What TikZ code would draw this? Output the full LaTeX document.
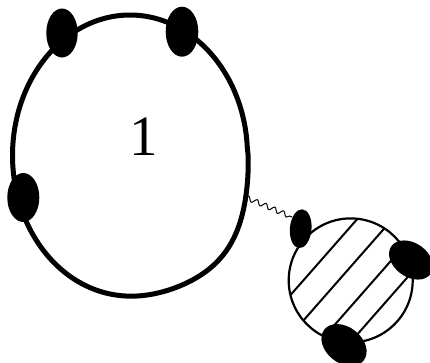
\documentclass[tikz,border=0pt]{standalone}
\usepackage{fontspec}
\setmainfont{Liberation Serif}
\usetikzlibrary{shapes.geometric,decorations.pathmorphing}
\tikzset{
  blob/.style={ellipse, fill=black, draw=none, inner sep=0pt, outer sep=0pt},
  hatch/.style={line width=2pt},
  bigring/.style={line width=5pt},
  smallring/.style={circle, draw, line width=2.2pt, inner sep=0pt, minimum size=124pt},
  wavy/.style={line width=1pt, decorate, decoration={snake, amplitude=2.4pt, segment length=9.5pt}}
}
\begin{document}
\begin{tikzpicture}[x=1pt,y=-1pt]
\useasboundingbox (0,0) rectangle (430,362);
% small hatched circle
\node[smallring] (sc) at (350.7,280.4) {};
\begin{scope}
  \clip (350.7,280.4) circle (62);
  \draw[hatch] (277.8,309.5) -- (370.2,204.3);
  \draw[hatch] (297.7,327.0) -- (390.1,221.8);
  \draw[hatch] (317.5,344.4) -- (409.9,239.2);
  \draw[hatch] (335.0,359.8) -- (427.4,254.6);
\end{scope}
% big ring
\draw[bigring] plot[smooth cycle, tension=0.5, domain=0:357, samples=120, variable=\t]
  ({130+(117.5+8*exp(-((\t-40)/25)^2))*cos(\t)},
   {155.5+(140.5+8*exp(-((\t-40)/25)^2))*sin(\t)});
\node[font=\fontsize{57}{60}\selectfont] (lab) at (144,137) {1};
% wavy connector
\coordinate (wa) at (245,197);
\coordinate (wb) at (292,217);
\draw[wavy] (wa) -- (wb);
% blobs
\node[blob, minimum width=31.4pt, minimum height=49pt] (b1) at (62,33) {};
\node[blob, minimum width=32.6pt, minimum height=50pt] (b2) at (182,31.7) {};
\node[blob, minimum width=32pt, minimum height=49pt] (b3) at (23.3,197.5) {};
\node[blob, minimum width=21.6pt, minimum height=39pt, rotate=-5] (b4) at (300.7,228.7) {};
\node[blob, minimum width=48pt, minimum height=34pt, rotate=-35] (b5) at (411,260) {};
\node[blob, minimum width=50pt, minimum height=36pt, rotate=-38] (b6) at (344,345) {};
\end{tikzpicture}
\end{document}
